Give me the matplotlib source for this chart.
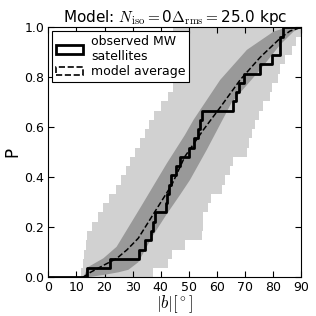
import numpy as np
import matplotlib
matplotlib.use("Agg")
import matplotlib.pyplot as plt
from matplotlib.patches import Patch

plt.rcParams['mathtext.fontset'] = 'cm'
plt.rcParams['font.family'] = ['DejaVu Sans']

# observed MW satellites |b| (sorted), 27 satellites
obs_b = [13.7, 22.0, 32.4, 34.5, 36.6, 37.4, 38.0, 41.8, 42.1, 42.8, 43.7, 45.4,
         46.9, 49.9, 52.0, 53.4, 54.0, 54.6, 65.6, 66.8, 68.0, 69.5, 75.2, 79.6,
         82.3, 82.5, 83.5]

# light band: per cumulative level k (P in [k/27,(k+1)/27]) left / right |b|
light_left = [11.8, 12.3, 12.8, 13.3, 13.7, 15.5, 17.5, 19.5, 21.5, 24.0, 26.0,
              27.5, 29.0, 31.0, 32.5, 34.5, 36.0, 37.5, 40.0, 42.5, 44.5, 44.5,
              44.5, 44.5, 44.5, 44.5, 44.5]
light_right = [37.3, 42.7, 44.0, 48.5, 54.6, 55.0, 55.2, 56.9, 57.8, 61.7, 62.9,
               64.7, 65.8, 70.6, 71.5, 72.4, 73.6, 75.0, 76.5, 78.9, 79.5, 81.8,
               82.5, 84.3, 86.6, 88.0, 90.0]

# dark band edges (|b|, P)
dark_upper_b = [12.5, 14.0, 19.6, 24.3, 33.0, 42.2, 48.6, 51.7, 61.2, 70.7, 80.2, 85.0, 90.0]
dark_upper_p = [0.0, 0.04, 0.076, 0.122, 0.283, 0.456, 0.569, 0.63, 0.79, 0.91, 0.983, 1.0, 1.0]
dark_lower_b = [12.5, 14.0, 20.0, 25.0, 28.5, 32.0, 37.4, 42.0, 46.9, 50.4, 56.4, 65.3, 75.4, 82.5, 87.3, 90.0]
dark_lower_p = [0.0, 0.0, 0.01, 0.02, 0.03, 0.06, 0.17, 0.25, 0.33, 0.389, 0.51, 0.70, 0.83, 0.93, 0.983, 1.0]

# model average
avg_b = [12.3, 15.0, 20.0, 24.3, 28.0, 32.0, 37.4, 43.9, 48.6, 55.2, 61.2, 68.3, 75.4, 82.5, 86.0, 90.0]
avg_p = [0.0, 0.02, 0.05, 0.075, 0.11, 0.156, 0.253, 0.369, 0.483, 0.59, 0.68, 0.79, 0.88, 0.956, 0.985, 1.0]

n = len(obs_b)

fig = plt.figure(figsize=(3.16, 3.16), dpi=100)
ax = fig.add_axes([0.153, 0.1225, 0.8, 0.791])

# light band as staircase
levels = np.arange(n + 1) / n
ys, xl, xr = [], [], []
for k in range(n):
    ys += [levels[k], levels[k + 1]]
    xl += [light_left[k], light_left[k]]
    xr += [light_right[k], light_right[k]]
ax.fill_betweenx(ys, xl, xr, color='0.82', lw=0, zorder=1)

# dark band polygon
poly_x = list(dark_upper_b) + list(dark_lower_b[::-1])
poly_y = list(dark_upper_p) + list(dark_lower_p[::-1])
ax.fill(poly_x, poly_y, color='0.6', lw=0, zorder=2)

# model average
ax.plot(avg_b, avg_p, 'k--', lw=1.1, zorder=3)

# observed step
sx = [0] + obs_b + [90]
sy = [0] + list(np.arange(1, n + 1) / n) + [1.0]
ax.step(sx, sy, where='post', color='k', lw=2, zorder=4)

ax.set_xlim(0, 90)
ax.set_ylim(0, 1)
ax.set_xticks(np.arange(0, 91, 10))
ax.set_yticks(np.arange(0, 1.01, 0.2))
ax.set_yticklabels(['0.0', '0.2', '0.4', '0.6', '0.8', '1.0'])
ax.tick_params(direction='in', top=True, right=True, labelsize=9, length=4, pad=3)

ax.set_xlabel(r'$|b|[^\circ]$', fontsize=12, labelpad=-1)
ax.set_ylabel('P', fontsize=12, labelpad=2)
ax.set_title(r'Model: $N_{\rm iso}=$0$\Delta_{\rm rms}=$25.0 kpc', fontsize=11, pad=4)

handles = [Patch(facecolor='none', edgecolor='k', lw=2),
           Patch(facecolor='none', edgecolor='k', lw=1.2, linestyle='--')]
leg = ax.legend(handles, ['observed MW\nsatellites', 'model average'], loc='upper left',
                fontsize=9, frameon=True, fancybox=False, borderaxespad=0.3,
                handlelength=2.2, handletextpad=0.6, labelspacing=0.2, borderpad=0.3)
leg.get_frame().set_edgecolor('k')
leg.get_frame().set_linewidth(0.8)
leg.get_frame().set_alpha(1)

fig.savefig('out.png', dpi=100)
